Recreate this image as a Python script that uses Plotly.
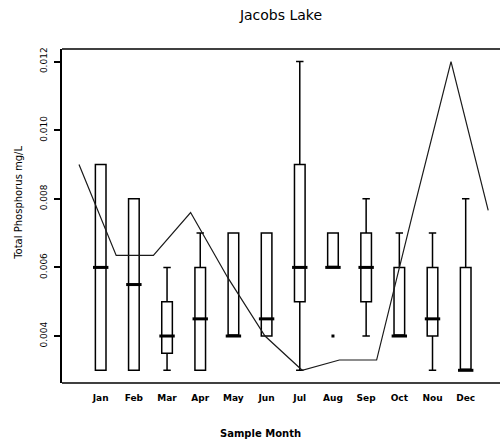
import plotly.graph_objects as go

# Monthly total phosphorus summary (mg/L) for Jacobs Lake
months = ["Jan", "Feb", "Mar", "Apr", "May", "Jun",
          "Jul", "Aug", "Sep", "Oct", "Nou", "Dec"]
lower_whisker = [0.003, 0.003, 0.003, 0.003, 0.004, 0.004,
                 0.003, 0.006, 0.004, 0.004, 0.003, 0.003]
q1 = [0.003, 0.003, 0.0035, 0.003, 0.004, 0.004,
      0.005, 0.006, 0.005, 0.004, 0.004, 0.003]
median = [0.006, 0.0055, 0.004, 0.0045, 0.004, 0.0045,
          0.006, 0.006, 0.006, 0.004, 0.0045, 0.003]
q3 = [0.009, 0.008, 0.005, 0.006, 0.007, 0.007,
      0.009, 0.007, 0.007, 0.006, 0.006, 0.006]
upper_whisker = [0.009, 0.008, 0.006, 0.007, 0.007, 0.007,
                 0.012, 0.007, 0.008, 0.007, 0.007, 0.008]

# Outlying observation
outlier_month = [7]
outlier_value = [0.004]

# Single-sample trace drawn across the year
line_values = [0.009, 0.00635, 0.00635, 0.0076, 0.0057, 0.004,
               0.003, 0.0033, 0.0033, 0.0077, 0.012, 0.00766]

pos = list(range(len(months)))
font_main = "DejaVu Sans"

fig = go.Figure()

fig.add_trace(go.Box(
    x=pos, q1=q1, median=median, q3=q3,
    lowerfence=lower_whisker, upperfence=upper_whisker,
    boxpoints=False, width=0.32, whiskerwidth=0.7,
    fillcolor="white", line=dict(color="black", width=1.5),
    hoverinfo="skip", showlegend=False,
))

# Heavier median bars
fig.add_trace(go.Scatter(
    x=pos, y=median, mode="markers",
    marker=dict(symbol="line-ew", size=11,
                line=dict(color="black", width=3)),
    hoverinfo="skip", showlegend=False,
))

fig.add_trace(go.Scatter(
    x=outlier_month, y=outlier_value, mode="markers",
    marker=dict(symbol="square", size=3, color="black"),
    hoverinfo="skip", showlegend=False,
))

fig.add_trace(go.Scatter(
    x=pos, y=line_values, mode="lines", xaxis="x2",
    line=dict(color="#1a1a1a", width=1.2),
    hoverinfo="skip", showlegend=False,
))

fig.update_layout(
    width=500, height=446,
    margin=dict(l=62, r=0, t=49, b=63),
    paper_bgcolor="white", plot_bgcolor="white",
    font=dict(family=font_main, color="black"),
    title=dict(text="Jacobs Lake", x=0.562, xanchor="center",
               y=0.966, yanchor="middle",
               font=dict(family=font_main, size=14, color="black")),
    xaxis=dict(
        range=[-1.166, 12.034], tickmode="array", tickvals=pos,
        ticktext=months, showgrid=False, zeroline=False,
        showline=False, ticks="", ticklabelstandoff=8,
        tickfont=dict(family=font_main, size=9, weight="bold"),
    ),
    xaxis2=dict(range=[-0.457, 11.317], overlaying="x",
                visible=False),
    yaxis=dict(
        range=[0.00263, 0.012367], tickmode="array",
        tickvals=[0.004, 0.006, 0.008, 0.010, 0.012],
        tickformat=".3f", tickangle=-90, showgrid=False,
        zeroline=False, showline=True, linecolor="black",
        linewidth=1.5, ticks="outside", ticklen=6, tickwidth=1.5,
        tickcolor="black", ticklabelstandoff=4,
        tickfont=dict(family=font_main, size=9),
    ),
    annotations=[
        dict(text="Sample Month", xref="paper", yref="paper",
             x=0.4525, y=-0.15, xanchor="center", yanchor="middle",
             showarrow=False,
             font=dict(family=font_main, size=10, weight="bold")),
        dict(text="Total Phosphorus mg/L", xref="paper", yref="paper",
             x=-0.100, y=0.54, xanchor="center", yanchor="middle",
             textangle=-90, showarrow=False,
             font=dict(family=font_main, size=10)),
    ],
    shapes=[
        dict(type="line", xref="paper", yref="paper", x0=0, x1=1,
             y0=1, y1=1, line=dict(color="black", width=1.5)),
        dict(type="line", xref="paper", yref="paper", x0=0, x1=1,
             y0=0, y1=0, line=dict(color="black", width=1.5)),
    ],
)

fig.write_html("out.html")
